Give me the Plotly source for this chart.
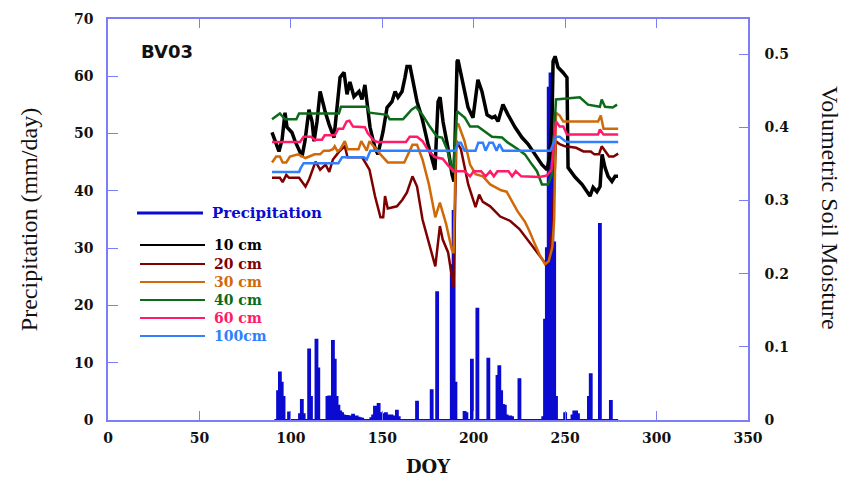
import plotly.graph_objects as go

# ---------------- data ----------------
precip_doy = list(range(91, 280))
precip_mm = [
    0, 0, 5, 8.3, 6.5, 4, 0, 0, 1.3, 0,
    0, 0, 0, 0, 1, 3.5, 1, 0, 0, 12.3,
    4, 0, 0, 14, 9, 0, 0, 0, 0, 4,
    4.1, 0, 13.8, 10.5, 4, 2.5, 1.5, 1.2, 0.8, 0.5,
    0.7, 0.4, 0.6, 0.9, 0.5, 0.6, 0.4, 0.3, 0.2, 0,
    0, 0, 0, 0.3, 0.8, 2.3, 1.5, 2.8, 1.2, 1.0,
    0.7, 1.2, 0.8, 0.7, 0.8, 0.6, 0.5, 1.6, 0.5, 0,
    0, 0, 0, 0, 0, 0, 0, 0, 3.2, 0,
    0, 0, 0, 0, 0, 0, 5.2, 0, 0, 22.3,
    0, 0, 0, 0, 0, 0, 0, 27, 36.5, 6.5,
    0, 0, 0, 0, 1.4, 1.2, 0, 0, 10.5, 0,
    0, 19.4, 0, 0, 0, 0, 0, 10.7, 0, 0,
    0, 0, 7.7, 9.4, 5, 2.6, 2.5, 0.8, 0.6, 0.6,
    0.5, 0, 0, 0, 7.1, 0, 0, 0, 0, 0,
    0, 0, 0, 0, 0, 0, 0, 0.5, 17.5, 30,
    58, 60.5, 45, 31, 4, 0, 0, 0, 0, 1.2,
    0, 0, 0, 0.8, 1.5, 1.5, 1, 0, 0, 0,
    0, 0, 4, 8, 0, 0, 0, 0, 34.2, 0,
    0, 0, 0, 0, 3.3, 0, 0, 0, 0,
]

sm10_doy = [89.7, 93.5, 95.2, 96.8, 97.9, 100.6, 102.3, 104.5, 106.1, 107.7, 109.9, 111.6, 112.7,
            114.3, 116, 118.7, 120.9, 123.6, 125.2, 126.9, 129.1, 130.7, 132.3, 134.5, 137.3, 138.9,
            140.5, 143.3, 146, 147.6, 150.4, 152.6, 155.3, 157, 158.6, 160.8, 162.4, 163.5, 165.2,
            166.8, 169, 171.7, 175, 178.8, 180.5, 181.6, 183.2, 185.9, 188.1, 189.2, 190.9, 191.4,
            193.6, 196.9, 199.6, 202.3, 204.5, 207.3, 210, 211.6, 213.3, 216, 218.8, 222.6, 226.4,
            229.7, 233.5, 237.3, 240.1, 241.7, 242.8, 243.4, 244.5, 246.1, 248.8, 251, 251.6, 255.4,
            259.2, 262, 263.6, 265.3, 267.4, 269.1, 270.2, 271.8, 273.5, 275.6, 277.3, 278.9]
sm10 = [0.393, 0.367, 0.383, 0.420, 0.400, 0.393, 0.381, 0.367, 0.360, 0.381, 0.424, 0.408, 0.381,
        0.408, 0.449, 0.422, 0.404, 0.386, 0.427, 0.468, 0.475, 0.445, 0.462, 0.442, 0.449, 0.438,
        0.458, 0.400, 0.372, 0.363, 0.394, 0.427, 0.435, 0.449, 0.441, 0.449, 0.468, 0.483, 0.483,
        0.462, 0.435, 0.413, 0.377, 0.342, 0.435, 0.441, 0.408, 0.372, 0.336, 0.326, 0.490, 0.492,
        0.468, 0.427, 0.413, 0.465, 0.449, 0.417, 0.413, 0.415, 0.408, 0.431, 0.417, 0.400, 0.386,
        0.377, 0.363, 0.349, 0.342, 0.363, 0.408, 0.490, 0.497, 0.482, 0.475, 0.468, 0.345, 0.332,
        0.322, 0.312, 0.306, 0.318, 0.312, 0.319, 0.363, 0.345, 0.333, 0.326, 0.333, 0.333]

sm20_doy = [89.7, 94, 95.5, 97.5, 99, 104.5, 108, 110, 113.5, 116, 119, 121, 123, 126.5, 129.5, 131,
            139, 143, 146, 149, 150.5, 151.5, 153, 158, 161, 163.5, 166.5, 169, 172, 176, 179, 181.5,
            183, 186, 189, 190.5, 193, 197, 201, 203, 205, 209, 214.5, 220, 225, 230.5, 236, 239.5,
            241, 243, 245, 247, 250, 256, 260, 264, 266, 268.5, 270, 272, 274, 276.5, 279]
sm20 = [0.331, 0.331, 0.325, 0.335, 0.331, 0.331, 0.319, 0.329, 0.353, 0.342, 0.349, 0.339, 0.356,
        0.367, 0.374, 0.359, 0.359, 0.342, 0.306, 0.277, 0.277, 0.306, 0.289, 0.292, 0.301, 0.311,
        0.333, 0.319, 0.274, 0.237, 0.210, 0.265, 0.247, 0.229, 0.181, 0.381, 0.370, 0.322, 0.291,
        0.308, 0.298, 0.292, 0.278, 0.272, 0.261, 0.243, 0.224, 0.213, 0.217, 0.261, 0.381, 0.377,
        0.374, 0.372, 0.367, 0.367, 0.363, 0.363, 0.374, 0.367, 0.360, 0.360, 0.364]

sm30_doy = [89.7, 92, 94, 95.5, 97.5, 99.5, 104, 108, 113, 116, 118, 121, 123, 124, 125.5, 127, 129.5,
            131, 137, 138.5, 141.5, 143, 149, 153, 162, 164, 166.5, 169, 172, 175.5, 179, 181.5, 185,
            188, 189, 190.5, 191.5, 195, 198, 201, 205, 209, 215, 218, 221, 224, 228, 230.5, 233.5,
            236, 239, 241, 243, 244, 245, 247, 249, 268, 269.5, 271, 279]
sm30 = [0.352, 0.360, 0.360, 0.352, 0.352, 0.360, 0.363, 0.358, 0.363, 0.363, 0.368, 0.368, 0.370,
        0.374, 0.367, 0.370, 0.381, 0.370, 0.370, 0.381, 0.368, 0.381, 0.363, 0.352, 0.352, 0.363,
        0.376, 0.376, 0.356, 0.322, 0.277, 0.297, 0.267, 0.233, 0.228, 0.402, 0.405, 0.381, 0.349,
        0.336, 0.333, 0.322, 0.314, 0.312, 0.299, 0.285, 0.271, 0.258, 0.240, 0.226, 0.213, 0.217,
        0.236, 0.274, 0.420, 0.416, 0.408, 0.408, 0.416, 0.398, 0.398]

sm40_doy = [89.7, 94, 96.8, 103, 104.5, 126.3, 127.4, 141.6, 143, 152.6, 154, 161.3, 163.5, 166, 168.4,
            172, 176, 180, 182.7, 185.4, 188.7, 190.9, 195.2, 198, 202.3, 206, 210, 215.5, 218.7,
            224.2, 228, 231.9, 234.6, 237.3, 240.6, 242.8, 245, 258, 262.5, 269, 270, 271.8, 276, 278.4]
sm40 = [0.411, 0.419, 0.411, 0.411, 0.419, 0.419, 0.428, 0.428, 0.420, 0.417, 0.411, 0.411, 0.417,
        0.424, 0.428, 0.417, 0.401, 0.387, 0.386, 0.370, 0.338, 0.422, 0.413, 0.401, 0.401, 0.394,
        0.387, 0.386, 0.379, 0.370, 0.363, 0.349, 0.340, 0.322, 0.322, 0.336, 0.438, 0.441, 0.431,
        0.428, 0.438, 0.428, 0.427, 0.431]

sm60_doy = [89.7, 105, 107, 111, 113, 117, 118.5, 124, 126, 128.5, 130.5, 132, 134, 140.5, 142, 145,
            147, 163, 165, 169, 172, 175.5, 179, 183, 186, 189, 190.5, 195, 198, 200, 204, 206.5, 209,
            211, 213, 219, 221, 223, 226, 236, 240, 242.5, 245, 247, 249, 251, 268, 269, 271, 279]
sm60 = [0.380, 0.380, 0.387, 0.387, 0.383, 0.383, 0.389, 0.389, 0.398, 0.398, 0.408, 0.409, 0.401,
        0.400, 0.392, 0.383, 0.380, 0.380, 0.387, 0.387, 0.381, 0.367, 0.359, 0.357, 0.348, 0.340,
        0.340, 0.340, 0.333, 0.340, 0.340, 0.333, 0.340, 0.333, 0.340, 0.340, 0.333, 0.340, 0.333,
        0.332, 0.334, 0.342, 0.408, 0.401, 0.401, 0.390, 0.390, 0.397, 0.390, 0.390]

sm100_doy = [89.7, 104.5, 105.5, 107, 126, 128, 140, 141.5, 143.5, 190, 191.5, 193, 195, 201, 202.5,
             205, 206.5, 208.5, 210.5, 212.5, 214, 216, 242, 245, 247, 250, 251.5, 279]
sm100 = [0.339, 0.339, 0.345, 0.351, 0.351, 0.359, 0.359, 0.356, 0.368, 0.368, 0.379, 0.379, 0.368,
         0.368, 0.379, 0.379, 0.368, 0.379, 0.379, 0.368, 0.377, 0.368, 0.368, 0.387, 0.387, 0.381,
         0.380, 0.380]

x_ticks = [0, 50, 100, 150, 200, 250, 300, 350]
y1_ticks = [0, 10, 20, 30, 40, 50, 60, 70]
y2_ticks = [0, 0.1, 0.2, 0.3, 0.4, 0.5]

series = [
    ("10 cm", sm10_doy, sm10, "#000000", 3.5),
    ("20 cm", sm20_doy, sm20, "#7f0000", 2.5),
    ("30 cm", sm30_doy, sm30, "#d06a08", 2.5),
    ("40 cm", sm40_doy, sm40, "#0b6b1a", 2.5),
    ("60 cm", sm60_doy, sm60, "#ff1a6a", 2.5),
    ("100cm", sm100_doy, sm100, "#2f7fff", 2.5),
]
precip_color = "#0a0ad0"
axis_color = "#7d7df5"

fig = go.Figure()
fig.add_trace(go.Scatter(x=precip_doy, y=precip_mm, mode="lines", line=dict(color=precip_color, width=2, shape="hvh"),
                         fill="tozeroy", fillcolor=precip_color, name="Precipitation", showlegend=False, yaxis="y"))
for name, xd, yd, col, w in series:
    fig.add_trace(go.Scatter(x=xd, y=yd, mode="lines", line=dict(color=col, width=w), name=name,
                             showlegend=False, yaxis="y2"))

# manual legend (paper coords)
L, T, W, H = 108, 19, 640, 401
def px(x):
    return (x - L) / W
def py(y):
    return (T + H - y) / H

shapes = []
annotations = []
shapes.append(dict(type="line", xref="paper", yref="paper", x0=px(137), x1=px(203), y0=py(213), y1=py(213),
                   line=dict(color=precip_color, width=3)))
annotations.append(dict(xref="paper", yref="paper", x=px(210), y=py(213), xanchor="left", yanchor="middle",
                        text="Precipitation", showarrow=False,
                        font=dict(family="DejaVu Serif", size=15, weight="bold", color=precip_color)))
leg_y = [245, 264, 282, 300, 318, 336]
for (name, xd, yd, col, w), yy in zip(series, leg_y):
    shapes.append(dict(type="line", xref="paper", yref="paper", x0=px(140), x1=px(205), y0=py(yy), y1=py(yy),
                       line=dict(color=col, width=2)))
    annotations.append(dict(xref="paper", yref="paper", x=px(212), y=py(yy), xanchor="left", yanchor="middle",
                            text=name, showarrow=False,
                            font=dict(family="DejaVu Serif", size=14, weight="bold", color=col)))

annotations.append(dict(xref="paper", yref="paper", x=px(139), y=py(52), xanchor="left", yanchor="middle",
                        text="BV03", showarrow=False,
                        font=dict(family="DejaVu Sans", size=18, weight="bold", color="#111111")))
annotations.append(dict(xref="paper", yref="paper", x=px(830), y=py(208), xanchor="center",
                        yanchor="middle", text="Volumetric Soil Moisture", textangle=90, showarrow=False,
                        font=dict(family="Liberation Serif", size=24, color="#111111")))

tickfont = dict(family="DejaVu Serif", size=14, weight="bold", color="#111111")
fig.update_layout(
    width=847, height=480,
    margin=dict(l=108, r=99, t=19, b=60, autoexpand=False),
    paper_bgcolor="white", plot_bgcolor="white",
    showlegend=False,
    shapes=shapes, annotations=annotations,
    xaxis=dict(range=[0, 350], tickvals=x_ticks, ticktext=[str(v) for v in x_ticks], showgrid=False,
               zeroline=False, showline=True, linecolor=axis_color, linewidth=1.5, mirror="ticks",
               ticks="inside", ticklen=9, tickcolor=axis_color, tickwidth=1.2, tickfont=tickfont,
               ticklabelstandoff=4, automargin=False,
               title=dict(text="DOY", font=dict(family="DejaVu Serif", size=18, weight="bold", color="#111111"),
                          standoff=16)),
    yaxis=dict(range=[0, 70], tickvals=y1_ticks, ticktext=[str(v) for v in y1_ticks], showgrid=False,
               zeroline=False, showline=True, linecolor=axis_color, linewidth=1.5,
               ticks="inside", ticklen=10, tickcolor=axis_color, tickwidth=1.2, tickfont=tickfont,
               ticklabelstandoff=10, automargin=False,
               title=dict(text="Precipitation (mm/day)",
                          font=dict(family="Liberation Serif", size=24, color="#111111"), standoff=30)),
    yaxis2=dict(range=[0, 0.548], tickvals=y2_ticks, ticktext=["0", "0.1", "0.2", "0.3", "0.4", "0.5"],
                overlaying="y", side="right", showgrid=False, zeroline=False, showline=True,
                linecolor=axis_color, linewidth=1.5, ticks="inside", ticklen=9, tickcolor=axis_color,
                tickwidth=1.2, tickfont=tickfont, ticklabelstandoff=12, automargin=False),
)

fig.write_html("out.html")
